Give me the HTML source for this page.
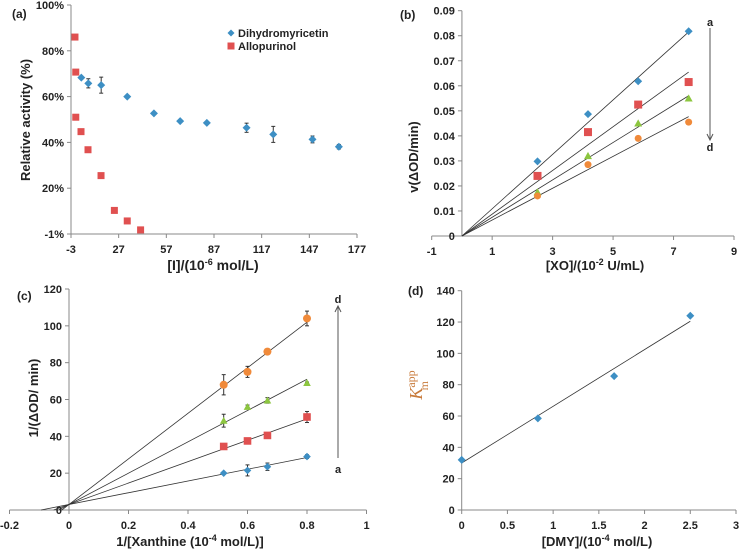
<!DOCTYPE html>
<html><head><meta charset="utf-8">
<style>
html,body{margin:0;padding:0;background:#fff;}
svg{display:block;font-family:"Liberation Sans",sans-serif;}
text{font-weight:bold;fill:#222;}
</style></head>
<body>
<svg id="fig" width="740" height="551" viewBox="0 0 740 551"></svg>
<script>
// ---- Panel (a) data ----
const aXTicks = [-3,27,57,87,117,147,177];
const aYTicks = [0,20,40,60,80,100];
const aYLabels = ["-1%","20%","40%","60%","80%","100%"];
const dmyX = [3.5,7.9,16,32.4,49.2,65.7,82.5,107.5,124.3,149,165.6];
const dmyY = [68.3,65.8,65,60,52.7,49.3,48.5,46.4,43.5,41.3,38.1];
const dmyErr = [0.5,2,3.5,0.5,0.5,0.5,0.5,2,3.5,1.5,1];
const alloX = [-0.5,0,0,3.3,7.7,15.9,24.3,32.4,40.8];
const alloY = [86,70.7,51,44.7,36.8,25.5,10.3,5.7,1.8];
// ---- Panel (b) data ----
const bXTicks = [-1,1,3,5,7,9];
const bYTicks = [0,0.01,0.02,0.03,0.04,0.05,0.06,0.07,0.08,0.09];
const bX = [2.5,4.17,5.83,7.5];
const bA = [0.0298,0.0487,0.0618,0.0818];
const bB = [0.024,0.0415,0.0525,0.0615];
const bC = [0.0175,0.032,0.045,0.055];
const bD = [0.016,0.0285,0.039,0.0455];
const bSlopes = [0.01087,0.00873,0.00747,0.00636];
// ---- Panel (c) data ----
const cXTicks = [-0.2,0,0.2,0.4,0.6,0.8,1];
const cYTicks = [0,20,40,60,80,100,120];
const cX = [0.52,0.6,0.667,0.8];
const cA = [20,21.5,23.5,29];
const cAErr = [0.5,3,2,1];
const cB = [34.5,37.5,40.5,50.5];
const cBErr = [0.5,1,1,3];
const cC = [48.5,56,59.5,69];
const cCErr = [3.5,1,1.5,0.5];
const cD = [68,75,86,104];
const cDErr = [5.5,3,1.5,4];
const cIntercept = 3;
const cEnd = [28.5,49.5,71,102];
// ---- Panel (d) data ----
const dXTicks = [0,0.5,1,1.5,2,2.5,3];
const dYTicks = [0,20,40,60,80,100,120,140];
const dX = [0,0.833,1.667,2.5];
const dY = [32,58.5,85.5,124];
const dFit = [30,120.5];

const NS="http://www.w3.org/2000/svg";
const svg=document.getElementById('fig');
function el(tag,attrs,parent){const e=document.createElementNS(NS,tag);for(const k in attrs)e.setAttribute(k,attrs[k]);(parent||svg).appendChild(e);return e;}
function txt(x,y,s,size,anchor,parent,extra){const t=el('text',Object.assign({x:x,y:y,'font-size':size,'text-anchor':anchor||'middle'},extra||{}),parent);t.textContent=s;return t;}
function scale(d0,d1,r0,r1){return v=>r0+(v-d0)*(r1-r0)/(d1-d0);}

function axes(g,sx,sy,xt,yt,xl,yl,x0px,y0px){
  const xr=[sx(xt[0]),sx(xt[xt.length-1])];
  const yr=[sy(yt[0]),sy(yt[yt.length-1])];
  const xa=el('line',{x1:xr[0],x2:xr[1],y1:y0px,y2:y0px,stroke:'#888','stroke-width':1},g);
  
  const ya=el('line',{x1:x0px,x2:x0px,y1:yr[0],y2:yr[1],stroke:'#888','stroke-width':1},g);
  
  xt.forEach((v,i)=>{el('line',{x1:sx(v),x2:sx(v),y1:y0px,y2:y0px+4,stroke:'#888'},g);
    const t=txt(sx(v),y0px+19,xl?xl[i]:String(v),11,'middle',g);
    });
  yt.forEach((v,i)=>{el('line',{x1:x0px-4,x2:x0px,y1:sy(v),y2:sy(v),stroke:'#888'},g);
    const t=txt(x0px-7,sy(v)+4,yl?yl[i]:String(v),11,'end',g);
    });
}
function diamond(g,x,y,c,r){return el('polygon',{points:`${x},${y-r} ${x+r},${y} ${x},${y+r} ${x-r},${y}`,fill:c},g);}
function square(g,x,y,c,r){return el('rect',{x:x-r,y:y-r,width:2*r,height:2*r,fill:c},g);}
function tri(g,x,y,c,r){return el('polygon',{points:`${x},${y-r} ${x+r},${y+r*0.8} ${x-r},${y+r*0.8}`,fill:c},g);}
function circ(g,x,y,c,r){return el('circle',{cx:x,cy:y,r:r,fill:c},g);}
function errbar(g,x,y1,y2){el('line',{x1:x,x2:x,y1:y1,y2:y2,stroke:'#333','stroke-width':1},g);
  el('line',{x1:x-2,x2:x+2,y1:y1,y2:y1,stroke:'#333'},g);el('line',{x1:x-2,x2:x+2,y1:y2,y2:y2,stroke:'#333'},g);}
const BLUE='#3d8fc4',RED='#e05050',GREEN='#8cc63f',ORANGE='#f08a3a';

// ===== Panel a =====
(function(){
  const g=el('g',{});
  const sx=scale(-3,177,71,357), sy=scale(0,100,234,5);
  axes(g,sx,sy,aXTicks,aYTicks,null,aYLabels,71,234);
  dmyX.forEach((v,i)=>{errbar(g,sx(v),sy(dmyY[i]+dmyErr[i]),sy(dmyY[i]-dmyErr[i]));
    const m=diamond(g,sx(v),sy(dmyY[i]),BLUE,4);});
  alloX.forEach((v,i)=>{const m=square(g,sx(v),sy(alloY[i]),RED,3.5);});
  const l1=el('g',{},g);
  diamond(l1,231,33,BLUE,3.5);txt(238,37,'Dihydromyricetin',11,'start',l1);
  const l2=el('g',{},g);
  square(l2,231,46,RED,3.5);txt(238,50,'Allopurinol',11,'start',l2);
  const p=txt(12,18,'(a)',12,'start',g);
  const yt=txt(0,0,'Relative activity (%)',13,'middle',g,{transform:'translate(30,120) rotate(-90)'});
  const xt=el('text',{x:213,y:270,'font-size':14,'text-anchor':'middle'},g);
  xt.innerHTML='[I]/(10<tspan dy="-5" font-size="9">-6</tspan><tspan dy="5"> mol/L)</tspan>';
})();

// ===== Panel b =====
(function(){
  const g=el('g',{});
  const sx=scale(-1,9,431.7,734), sy=scale(0,0.09,236,10.7);
  axes(g,sx,sy,bXTicks,bYTicks,null,bYTicks.map(v=>v===0?'0':v.toFixed(2)),sx(0),236);
  bSlopes.forEach(s=>{const l=el('line',{x1:sx(0),y1:sy(0),x2:sx(7.5),y2:sy(s*7.5),stroke:'#333','stroke-width':0.8},g);});
  const series=[[bA,diamond,BLUE],[bB,square,RED],[bC,tri,GREEN],[bD,circ,ORANGE]];
  series.forEach(([arr,f,c])=>arr.forEach((v,i)=>{const m=f(g,sx(bX[i]),sy(v),c,f===circ?3.5:4);}));
  el('line',{x1:710,x2:710,y1:28,y2:139,stroke:'#555'},g);
  el('polyline',{points:'707,134 710,140 713,134',fill:'none',stroke:'#555'},g);
  txt(710,26,'a',11,'middle',g);txt(710,151,'d',11,'middle',g);
  const p=txt(400,19,'(b)',12,'start',g);
  const yt=txt(0,0,'v(ΔOD/min)',13,'middle',g,{transform:'translate(418,157) rotate(-90)'});
  const xt=el('text',{x:595,y:270,'font-size':13,'text-anchor':'middle'},g);
  xt.innerHTML='[XO]/(10<tspan dy="-5" font-size="9">-2</tspan><tspan dy="5"> U/mL)</tspan>';
})();

// ===== Panel c =====
(function(){
  const g=el('g',{});
  const sx=scale(-0.2,1,9.5,366.5), sy=scale(0,120,510,289);
  axes(g,sx,sy,cXTicks,cYTicks,null,null,sx(0),510);
  cEnd.forEach(e=>{const s=(e-cIntercept)/0.8;const x0=Math.max(-cIntercept/s,-0.1);
    const l=el('line',{x1:sx(x0),y1:sy(cIntercept+s*x0),x2:sx(0.8),y2:sy(e),stroke:'#333','stroke-width':0.8},g);});
  const series=[[cA,cAErr,diamond,BLUE],[cB,cBErr,square,RED],[cC,cCErr,tri,GREEN],[cD,cDErr,circ,ORANGE]];
  series.forEach(([arr,err,f,c])=>arr.forEach((v,i)=>{errbar(g,sx(cX[i]),sy(v+err[i]),sy(v-err[i]));
    const m=f(g,sx(cX[i]),sy(v),c,f===circ?4:3.8);}));
  el('line',{x1:338,x2:338,y1:458,y2:307,stroke:'#555'},g);
  el('polyline',{points:'335,312 338,306 341,312',fill:'none',stroke:'#555'},g);
  txt(338,303,'d',11,'middle',g);txt(338,473,'a',11,'middle',g);
  const p=txt(17,300,'(c)',12,'start',g);
  const yt=txt(0,0,'1/(ΔOD/ min)',13,'middle',g,{transform:'translate(38,398) rotate(-90)'});
  const xt=el('text',{x:190,y:546,'font-size':13,'text-anchor':'middle'},g);
  xt.innerHTML='1/[Xanthine (10<tspan dy="-5" font-size="9">-4</tspan><tspan dy="5"> mol/L)]</tspan>';
})();

// ===== Panel d =====
(function(){
  const g=el('g',{});
  const sx=scale(0,3,461.7,736), sy=scale(0,140,510,290.7);
  axes(g,sx,sy,dXTicks,dYTicks,null,null,461.7,510);
  const l=el('line',{x1:sx(dX[0]),y1:sy(dFit[0]),x2:sx(dX[3]),y2:sy(dFit[1]),stroke:'#333','stroke-width':0.8},g);
  dX.forEach((v,i)=>{const m=diamond(g,sx(v),sy(dY[i]),BLUE,4);});
  const p=txt(408,295,'(d)',12,'start',g);
  const yt=el('text',{'font-size':18,'text-anchor':'middle',transform:'translate(422,385) rotate(-90)',style:'fill:#c87a3a;font-style:italic;font-family:\"Liberation Serif\",serif;font-weight:normal'},g);
  
  yt.innerHTML='K<tspan dy="-7" font-size="12" font-style="normal">app</tspan><tspan dx="-20" dy="13" font-size="12" font-style="normal">m</tspan>';
  const xt=el('text',{x:597,y:546,'font-size':13,'text-anchor':'middle'},g);
  xt.innerHTML='[DMY]/(10<tspan dy="-5" font-size="9">-4</tspan><tspan dy="5"> mol/L)</tspan>';
})();
</script>
</body></html>
